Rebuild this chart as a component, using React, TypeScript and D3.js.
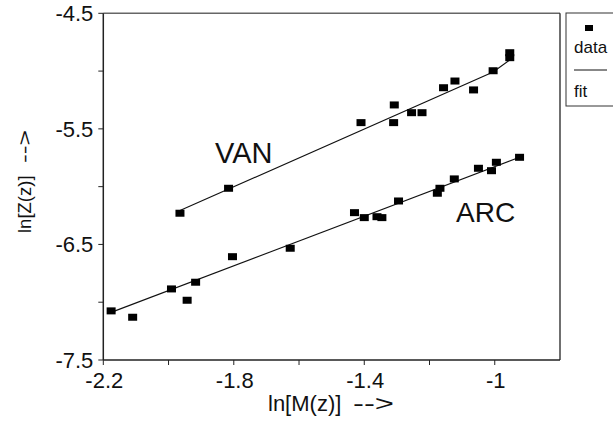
import React from "react";
import * as d3 from "d3";

const vanX = [-1.965, -1.816, -1.41, -1.308, -1.31, -1.255, -1.223, -1.157, -1.122, -1.065, -1.005, -0.954, -0.954];
const vanY = [-6.23, -6.014, -5.446, -5.293, -5.446, -5.36, -5.36, -5.144, -5.086, -5.163, -4.997, -4.841, -4.884];
const arcX = [-2.176, -2.11, -1.991, -1.943, -1.917, -1.804, -1.627, -1.43, -1.4, -1.361, -1.346, -1.295, -1.176, -1.168, -1.124, -1.05, -1.01, -0.995, -0.924];
const arcY = [-7.075, -7.13, -6.885, -6.983, -6.827, -6.606, -6.533, -6.225, -6.268, -6.26, -6.268, -6.124, -6.057, -6.014, -5.933, -5.841, -5.862, -5.789, -5.746];
const vanFitX = [-1.965, -1.005, -0.954];
const vanFitY = [-6.207, -5.008, -4.904];
const arcFitX = [-2.176, -0.924];
const arcFitY = [-7.088, -5.746];
const xTicks = [-2.2, -2.0, -1.8, -1.6, -1.4, -1.2, -1.0];
const xTickLabels = ["-2.2", "-1.8", "-1.4", "-1"];
const xLabelValues = [-2.2, -1.8, -1.4, -1.0];
const yTicks = [-4.5, -5.0, -5.5, -6.0, -6.5, -7.0, -7.5];
const yTickLabels = ["-4.5", "-5.5", "-6.5", "-7.5"];
const yLabelValues = [-4.5, -5.5, -6.5, -7.5];
const seriesLabels = ["VAN", "ARC"];
const legendLabels = ["data", "fit"];

const FONT = "'Liberation Sans', Arial, Helvetica, sans-serif";

export default function App() {
  const W = 613, H = 423;
  const x = d3.scaleLinear().domain([-2.2, -0.8]).range([103.3, 560]);
  const y = d3.scaleLinear().domain([-7.5, -4.5]).range([360, 13.3]);
  const line = d3.line<[number, number]>().x((d) => x(d[0])).y((d) => y(d[1]));
  const vanFit = vanFitX.map((v, i) => [v, vanFitY[i]] as [number, number]);
  const arcFit = arcFitX.map((v, i) => [v, arcFitY[i]] as [number, number]);
  const pts = [
    ...vanX.map((v, i) => [v, vanY[i]]),
    ...arcX.map((v, i) => [v, arcY[i]]),
  ];
  const mw = 9, mh = 7;
  const [x0, x1] = x.range();
  const [y0, y1] = y.range();
  return (
    <svg width={W} height={H} style={{ position: "absolute", left: 0, top: 0, background: "#fff" }} fontFamily={FONT}>
      <rect x={0} y={0} width={W} height={H} fill="#fff" />
      {/* frame */}
      <line x1={x0} x2={x1} y1={y1} y2={y1} stroke="#666" strokeWidth={1.5} />
      <line x1={x1} x2={x1} y1={y1} y2={y0} stroke="#222" strokeWidth={1.3} />
      <line x1={x0} x2={x0} y1={y1} y2={y0} stroke="#222" strokeWidth={1.5} />
      <line x1={x0} x2={x1} y1={y0} y2={y0} stroke="#222" strokeWidth={1.5} />
      {/* y ticks */}
      {yTicks.map((t) => (
        <line key={"yt" + t} x1={x0 - 5} x2={x0} y1={y(t)} y2={y(t)} stroke="#222" strokeWidth={1} />
      ))}
      {yLabelValues.map((t, i) => (
        <text key={"yl" + t} x={x0 - 10} y={y(t)} dy="0.36em" textAnchor="end" fontSize={22} fill="#111">
          {yTickLabels[i]}
        </text>
      ))}
      {/* x ticks */}
      {xTicks.map((t) => (
        <line key={"xt" + t} x1={x(t)} x2={x(t)} y1={y0} y2={y0 + 5} stroke="#222" strokeWidth={1} />
      ))}
      {xLabelValues.map((t, i) => (
        <text key={"xl" + t} x={x(t) + 1} y={388} textAnchor="middle" fontSize={22} fill="#111">
          {xTickLabels[i]}
        </text>
      ))}
      {/* axis titles */}
      <text x={268} y={411} fontSize={22} fill="#111">ln[M(z)]</text>
      <text x={353} y={411} fontSize={22} fill="#111" textLength={41} lengthAdjust="spacingAndGlyphs">--&gt;</text>
      <g transform="translate(31,0) rotate(-90)">
        <text x={-233} y={0} fontSize={18.5} fill="#111">ln[Z(z)]</text>
        <text x={-163} y={0} fontSize={18.5} fill="#111" textLength={33} lengthAdjust="spacingAndGlyphs">--&gt;</text>
      </g>
      {/* fit lines */}
      <path d={line(vanFit) || ""} fill="none" stroke="#111" strokeWidth={1.1} />
      <path d={line(arcFit) || ""} fill="none" stroke="#111" strokeWidth={1.1} />
      {/* points */}
      {pts.map((p, i) => (
        <rect key={"p" + i} x={x(p[0]) - mw / 2} y={y(p[1]) - mh / 2} width={mw} height={mh} fill="#000" />
      ))}
      {/* series labels */}
      <text x={215} y={163} fontSize={29} fill="#111">{seriesLabels[0]}</text>
      <text x={456} y={222} fontSize={28} fill="#111">{seriesLabels[1]}</text>
      {/* legend */}
      <rect x={566} y={13} width={60} height={93} fill="#fff" stroke="#333" strokeWidth={1} />
      <rect x={589 - 4} y={28 - 3} width={8} height={6} fill="#000" />
      <text x={574} y={53} fontSize={17} fill="#111">{legendLabels[0]}</text>
      <line x1={574} x2={607} y1={70} y2={70} stroke="#111" strokeWidth={1} />
      <text x={574} y={97} fontSize={17} fill="#111">{legendLabels[1]}</text>
    </svg>
  );
}
